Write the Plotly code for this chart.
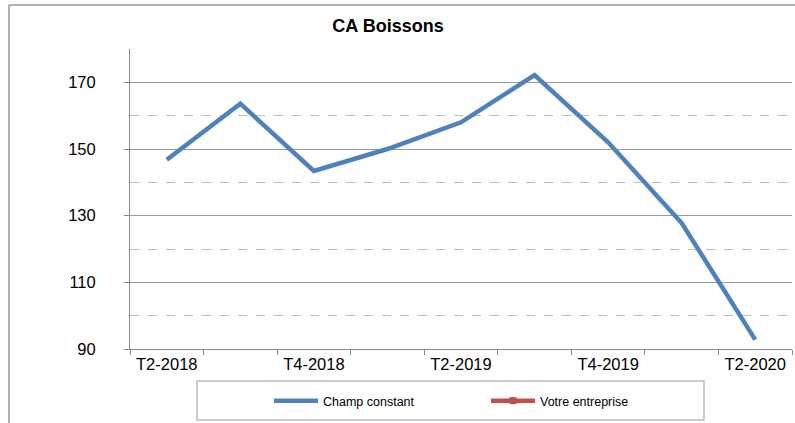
import plotly.graph_objects as go

categories = ["T2-2018", "T3-2018", "T4-2018", "T1-2019", "T2-2019",
              "T3-2019", "T4-2019", "T1-2020", "T2-2020"]
tick_labels = ["T2-2018", "", "T4-2018", "", "T2-2019", "", "T4-2019", "", "T2-2020"]
champ_constant = [146.8, 163.6, 143.4, 150.0, 158.0, 172.2, 152.0, 127.8, 92.8]
votre_entreprise = [None] * len(categories)
major_ticks = [90, 110, 130, 150, 170]
minor_ticks = [100, 120, 140, 160, 180]

W, H = 795, 423
ML, MR, MT, MB = 130, 3, 49, 74
PW, PH = W - ML - MR, H - MT - MB


def px_x(p):
    return (p - ML) / PW


def px_y(p):
    return (H - MB - p) / PH


fig = go.Figure()
fig.add_trace(go.Scatter(
    x=categories, y=champ_constant, mode="lines", name="Champ constant",
    line=dict(color="#4F81BD", width=4.5),
))
fig.add_trace(go.Scatter(
    x=categories, y=votre_entreprise, mode="lines+markers", name="Votre entreprise",
    line=dict(color="#C0504D", width=4.5),
    marker=dict(symbol="square", size=7, color="#C0504D"),
))

font_main = "Liberation Sans, Arial, Helvetica, sans-serif"

fig.update_layout(
    width=W, height=H,
    margin=dict(l=ML, r=MR, t=MT, b=MB, autoexpand=False),
    paper_bgcolor="white", plot_bgcolor="white",
    font=dict(family=font_main, color="black"),
    title=dict(text="<b>CA Boissons</b>", x=388 / W, xref="container", xanchor="center",
               y=1 - 26 / H, yref="container", yanchor="middle",
               font=dict(size=18, family=font_main, color="black")),
    showlegend=True,
    legend=dict(orientation="h", x=px_x(269), xanchor="left", y=px_y(401), yanchor="middle",
                bgcolor="rgba(0,0,0,0)", borderwidth=0,
                font=dict(size=12.5, family=font_main),
                entrywidth=158, entrywidthmode="pixels", itemwidth=44,
                tracegroupgap=0),
    xaxis=dict(
        type="category", categoryorder="array", categoryarray=categories,
        tickvals=categories, ticktext=tick_labels,
        tickson="boundaries", ticks="outside", ticklen=5, tickcolor="#888888",
        showline=True, linecolor="#888888", linewidth=1,
        showgrid=False, zeroline=False, automargin=False,
        tickfont=dict(size=16.5, family=font_main, color="black"),
        range=[-0.5, 8.5],
    ),
    yaxis=dict(
        range=[90, 180], tickvals=major_ticks,
        ticks="outside", ticklen=5, tickcolor="#888888",
        showline=True, linecolor="#888888", linewidth=1,
        showgrid=True, gridcolor="#999999", gridwidth=1,
        zeroline=False, automargin=False,
        tickfont=dict(size=16.5, family=font_main, color="black"),
        ticklabelstandoff=25,
    ),
    yaxis2=dict(
        range=[90, 180], overlaying="y", matches="y", side="left",
        tickvals=minor_ticks, showticklabels=False, ticks="",
        showline=False, showgrid=True, gridcolor="#BBBBBB", gridwidth=1,
        griddash="dash", zeroline=False, automargin=False,
    ),
    shapes=[
        # outer chart border (left and top visible)
        dict(type="line", xref="paper", yref="paper",
             x0=px_x(9), x1=px_x(9), y0=px_y(5), y1=px_y(H + 2),
             line=dict(color="#999999", width=1.5)),
        dict(type="line", xref="paper", yref="paper",
             x0=px_x(9), x1=px_x(W + 2), y0=px_y(5), y1=px_y(5),
             line=dict(color="#999999", width=1.5)),
        # legend box
        dict(type="rect", xref="paper", yref="paper",
             x0=px_x(197), x1=px_x(704), y0=px_y(381), y1=px_y(420),
             line=dict(color="#BBBBBB", width=1.5), fillcolor="rgba(0,0,0,0)"),
    ],
)

# invisible helper so that the dashed minor grid axis is drawn
fig.add_trace(go.Scatter(x=categories, y=votre_entreprise, yaxis="y2",
                         showlegend=False, hoverinfo="skip", mode="lines"))

fig.write_html("out.html", config={"displayModeBar": False},
               post_script="document.body.style.margin='0';document.body.style.overflow='hidden';")
